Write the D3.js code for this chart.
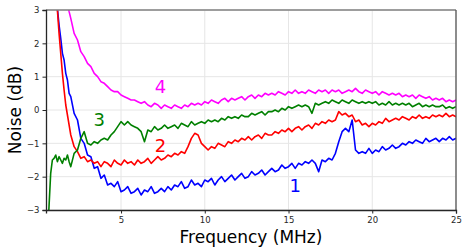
<!DOCTYPE html>
<html>
<head>
<meta charset="utf-8">
<script src="https://cdn.jsdelivr.net/npm/d3@7"></script>
<style>
  body { margin: 0; background: #fff; }
  text { font-family: "DejaVu Sans", sans-serif; }
</style>
</head>
<body>
<div id="chart"></div>
<script>
// Frequency grid (MHz): fine steps at the low end, then every 0.2 MHz.
var freqFine = [0.6, 0.7, 0.8, 0.9, 1.0, 1.1, 1.2, 1.3, 1.4, 1.5, 1.6, 1.7, 1.8, 1.9];
var freqMain = d3.range(0, 116).map(function(i) { return +(2.0 + 0.2 * i).toFixed(1); });
var freq = freqFine.concat(freqMain);

// Noise (dB), one value per frequency above.
var noise1 = [
  6.0, 5.4, 4.9, 4.4, 4.0, 3.5, 3.05, 2.55, 2.15, 1.7, 1.5, 1.1, 0.9, 0.5,
  0.4, -0.1, -0.3, -0.85, -1.0, -1.35, -1.4, -1.75, -1.7, -2.05,
  -1.95, -2.25, -2.2, -2.3, -2.15, -2.45, -2.4, -2.3, -2.5, -2.45,
  -2.35, -2.55, -2.4, -2.45, -2.3, -2.5, -2.45, -2.35, -2.45, -2.3,
  -2.4, -2.25, -2.3, -2.15, -2.35, -2.3, -2.1, -2.25, -2.2, -2.3,
  -2.1, -2.15, -2.05, -2.25, -2.1, -2.0, -2.15, -2.05, -1.95, -2.1,
  -2.0, -1.9, -2.05, -2.0, -1.85, -1.95, -1.9, -1.8, -1.95, -1.85,
  -1.75, -1.85, -1.8, -1.65, -1.75, -1.7, -1.6, -1.75, -1.6, -1.65,
  -1.55, -1.6, -1.5, -1.6, -1.85, -1.5, -1.55, -1.45, -1.5, -1.3,
  -0.95, -0.65, -0.55, -0.65, -0.3, -1.2, -1.3, -1.25, -1.3, -1.15,
  -1.3, -1.2, -1.25, -1.1, -1.2, -1.15, -1.05, -1.15, -1.1, -1.0,
  -1.05, -0.95, -1.0, -0.9, -0.95, -1.0, -0.85, -0.95, -0.9, -0.85,
  -0.95, -0.85, -0.9, -0.8, -0.9, -0.85
];
var noise2 = [
  7.0, 6.0, 5.2, 4.6, 4.0, 3.5, 3.0, 2.3, 1.7, 1.1, 0.6, 0.15, -0.15, -0.45,
  -0.75, -1.1, -1.25, -1.45, -1.4, -1.55, -1.5, -1.6, -1.55, -1.7,
  -1.55, -1.6, -1.7, -1.5, -1.6, -1.65, -1.5, -1.6, -1.55, -1.65,
  -1.5, -1.6, -1.55, -1.45, -1.6, -1.5, -1.4, -1.5, -1.45, -1.35,
  -1.4, -1.3, -1.35, -1.25, -1.3, -1.1, -0.85, -0.7, -0.75, -1.0,
  -1.1, -1.2, -1.1, -1.15, -1.0, -1.05, -1.1, -0.95, -1.0, -0.9,
  -0.95, -0.85, -0.9, -0.8, -0.9, -0.8, -0.75, -0.85, -0.7, -0.75,
  -0.75, -0.65, -0.7, -0.6, -0.65, -0.55, -0.65, -0.55, -0.5, -0.6,
  -0.5, -0.45, -0.55, -0.4, -0.45, -0.35, -0.4, -0.3, -0.35, -0.3,
  -0.05, -0.15, -0.1, -0.2, -0.15, -0.35, -0.3, -0.45, -0.4, -0.5,
  -0.4, -0.45, -0.35, -0.4, -0.25, -0.35, -0.3, -0.25, -0.3, -0.2,
  -0.25, -0.3, -0.2, -0.25, -0.15, -0.25, -0.2, -0.25, -0.15, -0.2,
  -0.15, -0.2, -0.1, -0.2, -0.15, -0.2
];
var noise3 = [
  -3.8, -2.9, -1.9, -1.5, -1.45, -1.35, -1.55, -1.4, -1.5, -1.6, -1.45, -1.5, -1.35, -1.55,
  -1.7, -1.3, -1.2, -0.85, -0.65, -1.0, -1.05, -0.95, -1.0, -0.9,
  -0.85, -0.9, -0.75, -0.65, -0.5, -0.35, -0.45, -0.35, -0.45, -0.5,
  -0.55, -0.65, -0.95, -0.6, -0.65, -0.5, -0.6, -0.55, -0.45, -0.55,
  -0.5, -0.45, -0.55, -0.4, -0.45, -0.5, -0.35, -0.45, -0.4, -0.35,
  -0.4, -0.3, -0.35, -0.3, -0.35, -0.25, -0.3, -0.2, -0.25, -0.2,
  -0.25, -0.15, -0.2, -0.2, -0.1, -0.15, -0.1, -0.05, -0.15, -0.05,
  -0.05, 0.0, -0.05, 0.05, 0.0, 0.1, 0.05, 0.1, 0.15, 0.1,
  0.15, 0.1, -0.1, 0.2, 0.15, 0.2, 0.25, 0.2, 0.3, 0.25,
  0.2, 0.3, 0.25, 0.2, 0.3, 0.25, 0.2, 0.25, 0.2, 0.25,
  0.2, 0.25, 0.15, 0.2, 0.15, 0.25, 0.15, 0.2, 0.15, 0.2,
  0.15, 0.2, 0.1, 0.15, 0.2, 0.1, 0.15, 0.1, 0.15, 0.1,
  0.1, 0.15, 0.05, 0.1, 0.05, 0.1
];
var noise4 = [
  7.4, 7.0, 6.6, 6.2, 5.8, 5.4, 5.0, 4.7, 4.4, 4.1, 3.8, 3.5, 3.2, 2.95,
  2.75, 2.3, 2.1, 1.75, 1.6, 1.4, 1.3, 1.1, 1.0, 0.85,
  0.8, 0.7, 0.6, 0.55, 0.55, 0.45, 0.4, 0.35, 0.3, 0.3,
  0.25, 0.2, 0.25, 0.15, 0.1, 0.2, 0.15, 0.05, 0.15, 0.1,
  0.05, 0.15, 0.1, 0.05, 0.15, 0.1, 0.2, 0.15, 0.2, 0.15,
  0.25, 0.2, 0.3, 0.25, 0.2, 0.3, 0.35, 0.25, 0.35, 0.3,
  0.35, 0.4, 0.3, 0.4, 0.45, 0.35, 0.45, 0.4, 0.5, 0.45,
  0.5, 0.45, 0.55, 0.5, 0.45, 0.55, 0.5, 0.6, 0.5, 0.55,
  0.5, 0.6, 0.55, 0.5, 0.6, 0.55, 0.6, 0.5, 0.6, 0.55,
  0.6, 0.5, 0.55, 0.6, 0.55, 0.65, 0.55, 0.5, 0.6, 0.55,
  0.5, 0.55, 0.45, 0.55, 0.5, 0.45, 0.5, 0.45, 0.5, 0.4,
  0.45, 0.4, 0.45, 0.35, 0.45, 0.4, 0.35, 0.4, 0.3, 0.35,
  0.3, 0.35, 0.25, 0.3, 0.25, 0.3
];

var seriesNames = ["1", "2", "3", "4"];
var seriesColours = ["#0000ff", "#ff0000", "#008000", "#ff00ff"];
// Where each series number sits, in data units (MHz, dB).
var labelFreq = [15.4, 7.35, 3.7, 7.35];
var labelDb = [-2.28, -1.08, -0.3, 0.7];

var xTicks = [5, 10, 15, 20, 25];
var yTicks = [-3, -2, -1, 0, 1, 2, 3];

var width = 469, height = 252;
var margin = {left: 46, right: 13, top: 10, bottom: 42};

var svg = d3.select("#chart").append("svg")
    .attr("width", width)
    .attr("height", height);

var xScale = d3.scaleLinear()
    .domain([0.52, 25])
    .range([margin.left, width - margin.right]);
var yScale = d3.scaleLinear()
    .domain([-3, 3])
    .range([height - margin.bottom, margin.top]);

// Grid lines
svg.append("g").selectAll("line")
    .data(xTicks).enter().append("line")
    .attr("x1", function(v) { return xScale(v); })
    .attr("x2", function(v) { return xScale(v); })
    .attr("y1", margin.top).attr("y2", height - margin.bottom)
    .attr("stroke", "#e6e6e6").attr("stroke-width", 1);
svg.append("g").selectAll("line")
    .data(yTicks).enter().append("line")
    .attr("y1", function(v) { return yScale(v); })
    .attr("y2", function(v) { return yScale(v); })
    .attr("x1", margin.left).attr("x2", width - margin.right)
    .attr("stroke", "#e6e6e6").attr("stroke-width", 1);

svg.append("clipPath").attr("id", "plotClip")
    .append("rect")
    .attr("x", margin.left).attr("y", margin.top)
    .attr("width", width - margin.left - margin.right)
    .attr("height", height - margin.top - margin.bottom);

var allNoise = [noise1, noise2, noise3, noise4];
var line = d3.line()
    .x(function(d) { return xScale(d[0]); })
    .y(function(d) { return yScale(d[1]); });

svg.append("g").attr("clip-path", "url(#plotClip)")
    .selectAll("path")
    .data(allNoise).enter().append("path")
    .attr("d", function(vals) { return line(d3.zip(freq, vals)); })
    .attr("fill", "none")
    .attr("stroke", function(v, i) { return seriesColours[i]; })
    .attr("stroke-width", 1.6)
    .attr("stroke-linejoin", "round");

// Series numbers
svg.append("g").selectAll("text")
    .data(seriesNames).enter().append("text")
    .attr("x", function(v, i) { return xScale(labelFreq[i]); })
    .attr("y", function(v, i) { return yScale(labelDb[i]); })
    .attr("dy", "0.36em")
    .attr("text-anchor", "middle")
    .attr("font-size", 18)
    .attr("fill", function(v, i) { return seriesColours[i]; })
    .text(function(v) { return v; });

// Frame: top/right lighter than the axis spines
svg.append("line")
    .attr("x1", margin.left).attr("x2", width - margin.right)
    .attr("y1", margin.top).attr("y2", margin.top)
    .attr("stroke", "#808080").attr("stroke-width", 1.3);
svg.append("line")
    .attr("x1", width - margin.right).attr("x2", width - margin.right)
    .attr("y1", margin.top).attr("y2", height - margin.bottom)
    .attr("stroke", "#555").attr("stroke-width", 1.3);

var xAxis = d3.axisBottom(xScale).tickValues(xTicks).tickSize(3.5).tickPadding(3)
    .tickFormat(d3.format("d"));
var yAxis = d3.axisLeft(yScale).tickValues(yTicks).tickSize(3.5).tickPadding(3)
    .tickFormat(function(v) { return v < 0 ? "\u2212" + Math.abs(v) : v; });

var gx = svg.append("g")
    .attr("transform", "translate(0," + (height - margin.bottom) + ")")
    .call(xAxis);
var gy = svg.append("g")
    .attr("transform", "translate(" + margin.left + ",0)")
    .call(yAxis);
[gx, gy].forEach(function(g) {
    g.select(".domain").attr("stroke", "#262626").attr("stroke-width", 1.3);
    g.selectAll(".tick line").attr("stroke", "#262626");
    g.selectAll(".tick text").attr("font-size", 8.5).attr("fill", "#262626")
        .attr("font-family", "DejaVu Sans, sans-serif");
});

svg.append("text")
    .attr("x", (margin.left + width - margin.right) / 2)
    .attr("y", height - 9)
    .attr("text-anchor", "middle")
    .attr("font-size", 17)
    .attr("fill", "#000")
    .text("Frequency (MHz)");

svg.append("text")
    .attr("transform", "translate(21," + ((margin.top + height - margin.bottom) / 2) + ") rotate(-90)")
    .attr("text-anchor", "middle")
    .attr("font-size", 17)
    .attr("fill", "#000")
    .text("Noise (dB)");
</script>
</body>
</html>
